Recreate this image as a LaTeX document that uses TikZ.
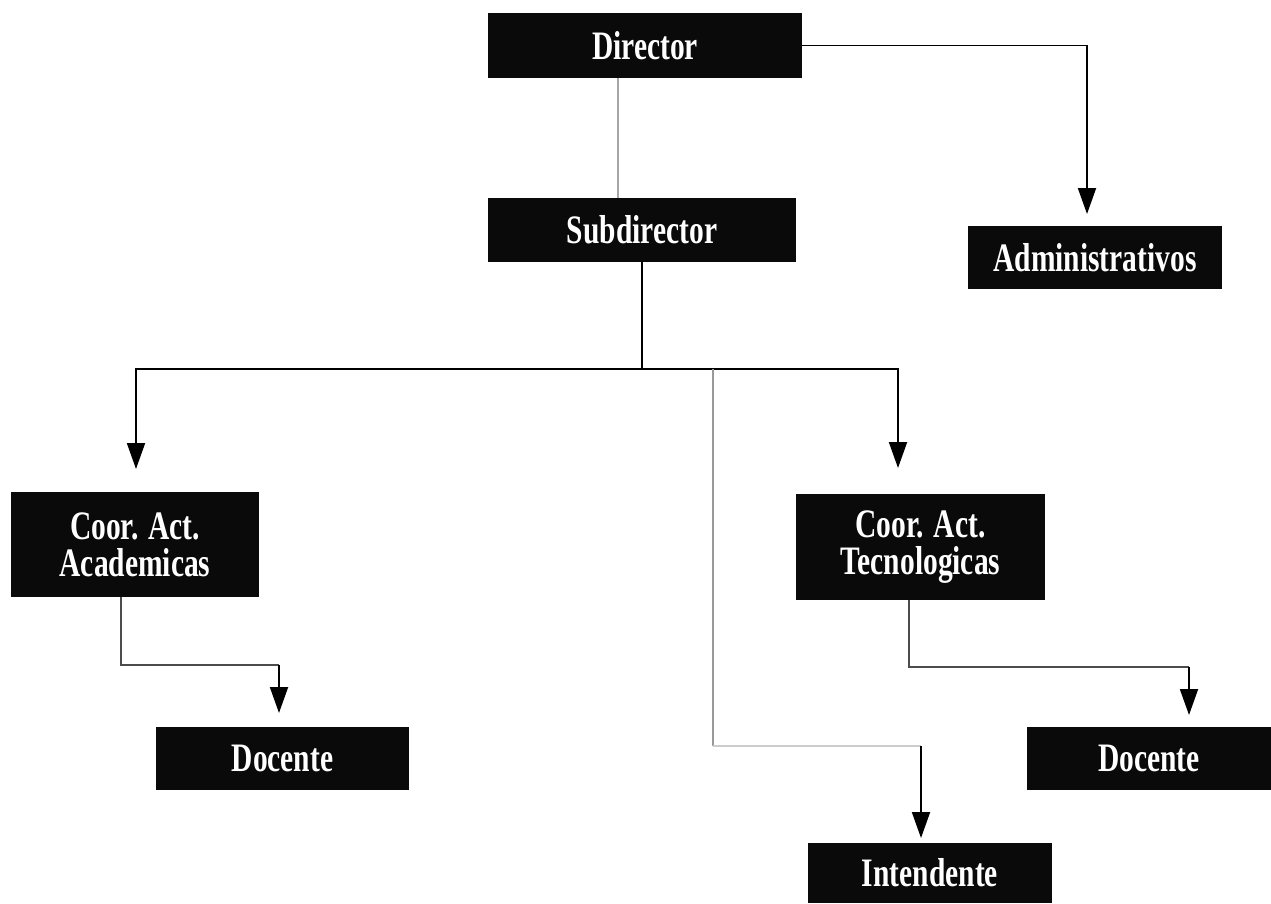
\documentclass[tikz,border=0pt]{standalone}
\usepackage{fontspec}
\newfontfamily\orgfont{Liberation Serif}[FakeStretch=0.73]
\usetikzlibrary{arrows.meta}
\definecolor{boxblack}{HTML}{0A0A0A}
\begin{document}
\begin{tikzpicture}[x=0.02cm, y=-0.02cm,
    box/.style={fill=boxblack, text=white, inner sep=0pt, align=center,
        font=\orgfont\bfseries\fontsize{23}{21}\selectfont},
    line/.style={line width=1.1pt},
    arr/.style={line, -{Triangle[width=0.36cm, length=0.52cm]}},
    faint/.style={line width=1.1pt, draw=black!35}]
\useasboundingbox (0,0) rectangle (1271,903);
\node[box, minimum width=6.28cm, minimum height=1.30cm] (dir) at (645,45.5) {Director};
\node[box, minimum width=6.16cm, minimum height=1.28cm] (sub) at (642,230) {Subdirector};
\node[box, minimum width=5.08cm, minimum height=1.26cm] (adm) at (1095,257.5) {Administrativos};
\node[box, minimum width=4.96cm, minimum height=2.10cm] (acad) at (135,544.5) {Coor. Act.\\Academicas};
\node[box, minimum width=4.98cm, minimum height=2.12cm] (tec) at (920.5,547) {Coor. Act.\\Tecnologicas};
\node[box, minimum width=5.06cm, minimum height=1.26cm] (docA) at (282.5,758.5) {Docente};
\node[box, minimum width=4.88cm, minimum height=1.26cm] (docT) at (1149,758.5) {Docente};
\node[box, minimum width=4.88cm, minimum height=1.20cm] (int) at (930,873) {Intendente};
% arrow tips and bends
\coordinate (tAdm) at (1087,214);
\coordinate (hub) at (642,369);
\coordinate (tAcad) at (136,469);
\coordinate (tTec) at (898,468);
\coordinate (jInt) at (713,369);
\coordinate (kInt) at (713,746);
\coordinate (tInt) at (921,838);
\coordinate (tDocA) at (279,713);
\coordinate (tDocT) at (1189,715);
% connectors
\draw[faint] (dir.south -| 618,0) -- (sub.north -| 618,0);
\draw[arr] (dir.east) -| (tAdm);
\draw[line] (sub.south) -- (hub);
\draw[arr] (hub) -| (tAcad);
\draw[arr] (hub) -| (tTec);
\draw[line, draw=black!40] (jInt) -- (kInt);
\draw[line, draw=black!20] (kInt) -- (kInt -| tInt);
\draw[arr] (kInt -| tInt) -- (tInt);
\draw[line, draw=black!70] (acad.south -| 121,0) |- (tDocA |- 0,665);
\draw[arr] (tDocA |- 0,665) -- (tDocA);
\draw[line, draw=black!70] (tec.south -| 909,0) |- (tDocT |- 0,667);
\draw[arr] (tDocT |- 0,667) -- (tDocT);
\end{tikzpicture}
\end{document}
